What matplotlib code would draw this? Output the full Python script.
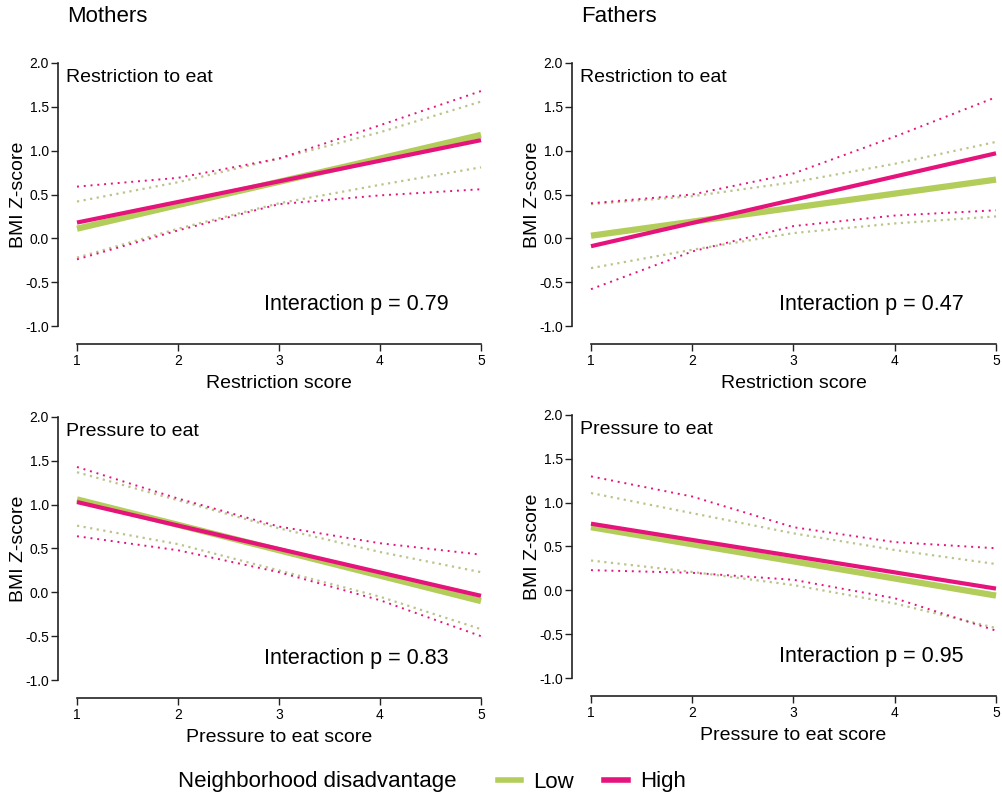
import matplotlib
matplotlib.use("Agg")
import matplotlib.pyplot as plt
from matplotlib.lines import Line2D

plt.rcParams['font.family'] = ['Liberation Sans', 'DejaVu Sans']

x = [1, 2, 3, 4, 5]

# Mothers - Restriction
m_res_low = [0.11, 0.38, 0.645, 0.91, 1.18]
m_res_high = [0.18, 0.415, 0.65, 0.885, 1.12]
m_res_low_up = [0.42, 0.64, 0.91, 1.21, 1.56]
m_res_low_lo = [-0.22, 0.11, 0.40, 0.61, 0.81]
m_res_high_up = [0.59, 0.69, 0.91, 1.29, 1.68]
m_res_high_lo = [-0.24, 0.09, 0.39, 0.49, 0.56]

# Fathers - Restriction
f_res_low = [0.03, 0.19, 0.35, 0.51, 0.67]
f_res_high = [-0.09, 0.175, 0.44, 0.705, 0.97]
f_res_low_up = [0.39, 0.48, 0.64, 0.85, 1.10]
f_res_low_lo = [-0.34, -0.13, 0.06, 0.17, 0.25]
f_res_high_up = [0.40, 0.50, 0.74, 1.16, 1.61]
f_res_high_lo = [-0.58, -0.15, 0.14, 0.26, 0.32]

# Mothers - Pressure
m_pre_low = [1.06, 0.77, 0.48, 0.19, -0.10]
m_pre_high = [1.03, 0.762, 0.495, 0.227, -0.04]
m_pre_low_up = [1.37, 1.05, 0.73, 0.46, 0.23]
m_pre_low_lo = [0.76, 0.55, 0.25, -0.05, -0.42]
m_pre_high_up = [1.43, 1.07, 0.75, 0.56, 0.43]
m_pre_high_lo = [0.64, 0.48, 0.23, -0.09, -0.50]

# Fathers - Pressure
f_pre_low = [0.72, 0.525, 0.33, 0.135, -0.06]
f_pre_high = [0.76, 0.575, 0.39, 0.205, 0.02]
f_pre_low_up = [1.11, 0.88, 0.65, 0.46, 0.30]
f_pre_low_lo = [0.34, 0.21, 0.06, -0.15, -0.43]
f_pre_high_up = [1.30, 1.07, 0.72, 0.55, 0.48]
f_pre_high_lo = [0.23, 0.20, 0.12, -0.09, -0.46]

p_values = ["0.79", "0.47", "0.83", "0.95"]
panel_titles = ["Restriction to eat", "Restriction to eat", "Pressure to eat", "Pressure to eat"]
x_labels = ["Restriction score", "Restriction score", "Pressure to eat score", "Pressure to eat score"]
col_titles = ["Mothers", "Fathers"]

LOW = '#b2cd5a'
LOW_CI = '#b9c58a'
HIGH = '#e5137b'

fig = plt.figure(figsize=(10.03, 7.94), dpi=100)

W = 1003.0
H = 794.0
def rect(l, r, t, b):
    return [l / W, 1 - b / H, (r - l) / W, (b - t) / H]

rects = [rect(77, 481, 63, 326), rect(591, 996, 63, 326),
         rect(77, 481, 417, 680), rect(591, 996, 415, 678)]

panels = [
    (m_res_low, m_res_high, m_res_low_up, m_res_low_lo, m_res_high_up, m_res_high_lo),
    (f_res_low, f_res_high, f_res_low_up, f_res_low_lo, f_res_high_up, f_res_high_lo),
    (m_pre_low, m_pre_high, m_pre_low_up, m_pre_low_lo, m_pre_high_up, m_pre_high_lo),
    (f_pre_low, f_pre_high, f_pre_low_up, f_pre_low_lo, f_pre_high_up, f_pre_high_lo),
]

PX = 72.0 / 100.0  # points per pixel

for i, (r, data) in enumerate(zip(rects, panels)):
    ax = fig.add_axes(r)
    low, high, lup, llo, hup, hlo = data
    ax.plot(x, lup, color=LOW_CI, ls=(0, (1, 2)), lw=1.6, clip_on=False)
    ax.plot(x, llo, color=LOW_CI, ls=(0, (1, 2)), lw=1.6, clip_on=False)
    ax.plot(x, hup, color=HIGH, ls=(0, (1, 2.5)), lw=1.4, clip_on=False)
    ax.plot(x, hlo, color=HIGH, ls=(0, (1, 2.5)), lw=1.4, clip_on=False)
    ax.plot(x, low, color=LOW, lw=4.5, solid_capstyle='butt', clip_on=False)
    ax.plot(x, high, color=HIGH, lw=3.0, solid_capstyle='butt', clip_on=False)
    ax.set_xlim(1, 5)
    ax.set_ylim(-1, 2)
    ax.set_xticks([1, 2, 3, 4, 5])
    ax.set_yticks([-1.0, -0.5, 0.0, 0.5, 1.0, 1.5, 2.0])
    ax.set_yticklabels(['-1.0', '-0.5', '0.0', '0.5', '1.0', '1.5', '2.0'])
    for s in ['top', 'right']:
        ax.spines[s].set_visible(False)
    ax.spines['left'].set_position(('outward', 19 * PX))
    ax.spines['bottom'].set_position(('outward', 18 * PX))
    for s in ['left', 'bottom']:
        ax.spines[s].set_linewidth(1.2)
        ax.spines[s].set_color('#222222')
    ax.tick_params(axis='both', labelsize=10, width=1.0, length=5, color='#222222', pad=1.5)
    ax.tick_params(axis='x', direction='out', length=5, pad=2)
    ax.set_ylabel('BMI Z-score', fontsize=14)
    ax.yaxis.set_label_coords(-0.124, 0.5)
    ax.set_xlabel(x_labels[i], fontsize=14, labelpad=5)
    ax.text(-0.026, 0.945, panel_titles[i], transform=ax.transAxes, fontsize=14, ha='left', va='center')
    ax.text(0.92, 0.08, 'Interaction p = ' + p_values[i], transform=ax.transAxes,
            fontsize=15.5, ha='right', va='center')
    ax.set_facecolor('none')

fig.text(67 / W, 1 - 17 / H, col_titles[0], fontsize=16, ha='left', va='center')
fig.text(581 / W, 1 - 17 / H, col_titles[1], fontsize=16, ha='left', va='center')

fig.text(178 / W, 1 - 782 / H, 'Neighborhood disadvantage', fontsize=16, ha='left', va='center')
handles = [Line2D([0], [0], color=LOW, lw=4), Line2D([0], [0], color=HIGH, lw=4)]
fig.legend(handles, ['Low', 'High'], loc='center left', bbox_to_anchor=(498 / W, 1 - 782 / H),
           ncol=2, frameon=False, fontsize=16, handlelength=1.05, handletextpad=0.55,
           columnspacing=1.35, borderaxespad=0, borderpad=0)

fig.savefig('out.png', dpi=100)
